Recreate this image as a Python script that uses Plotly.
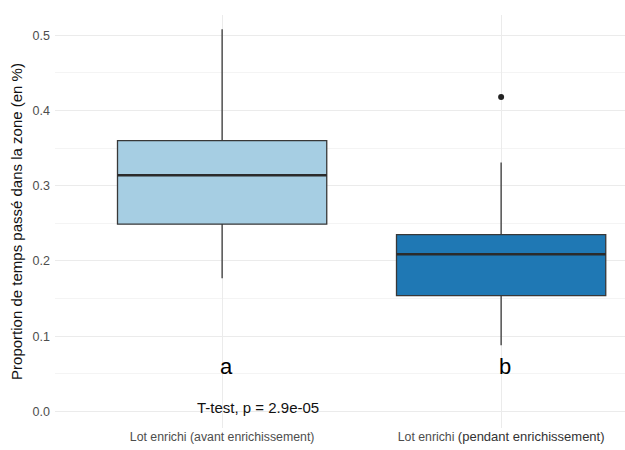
import plotly.graph_objects as go

# Groups compared and their box statistics (proportion of time spent in the zone)
categories = ["Lot enrichi (avant enrichissement)", "Lot enrichi (pendant enrichissement)"]
tick_labels = ["Lot enrichi (avant enrichissement)",
               "Lot enrichi <span style='font-size:13px;color:#333333'>(pendant enrichissement)</span>"]
q1 = [0.249, 0.154]
median = [0.314, 0.209]
q3 = [0.360, 0.235]
lower_whisker = [0.177, 0.088]
upper_whisker = [0.508, 0.331]
outlier_group = [categories[1]]
outlier_value = [0.418]
fill_colors = ["#A6CEE3", "#1F78B4"]
group_letters = ["a", "b"]
test_label = "T-test, p = 2.9e-05"

BOX_WIDTH = 0.75
EDGE = "#383838"

fig = go.Figure()
for i, cat in enumerate(categories):
    fig.add_trace(go.Box(
        x=[cat],
        q1=[q1[i]], median=[median[i]], q3=[q3[i]],
        lowerfence=[lower_whisker[i]], upperfence=[upper_whisker[i]],
        fillcolor=fill_colors[i],
        line=dict(color=EDGE, width=1.3),
        width=BOX_WIDTH,
        whiskerwidth=0,
        boxpoints=False,
        showlegend=False,
        hoverinfo="skip",
    ))
    # thicker median bar
    fig.add_shape(type="line", xref="x", yref="y",
                  x0=i - BOX_WIDTH / 2, x1=i + BOX_WIDTH / 2,
                  y0=median[i], y1=median[i],
                  line=dict(color="#2b2b2b", width=2.6))
    fig.add_annotation(x=i + 0.015, y=0.06, text=group_letters[i], showarrow=False,
                       font=dict(size=22, color="#000000"), xanchor="center", yanchor="middle")

fig.add_trace(go.Scatter(x=outlier_group, y=outlier_value, mode="markers",
                         marker=dict(color="#222222", size=6), showlegend=False,
                         hoverinfo="skip"))

fig.add_annotation(x=0.13, y=0.005, text=test_label, showarrow=False, xref="x", yref="y",
                   font=dict(size=15, color="#111111"), xanchor="center", yanchor="middle")

fig.update_layout(
    width=625, height=450,
    margin=dict(l=55, r=0, t=15, b=22),
    paper_bgcolor="white", plot_bgcolor="white",
    font=dict(family="Liberation Sans, Arial, sans-serif"),
)
fig.update_xaxes(
    type="category", range=[-0.599, 1.444],
    tickvals=categories, ticktext=tick_labels,
    showgrid=True, gridcolor="#EBEBEB", gridwidth=1,
    zeroline=False, showline=False, ticks="",
    tickfont=dict(size=12.3, color="#4D4D4D"),
)
fig.update_yaxes(
    range=[-0.022, 0.527],
    tickvals=[0.0, 0.1, 0.2, 0.3, 0.4, 0.5],
    ticktext=["0.0", "0.1", "0.2", "0.3", "0.4", "0.5"],
    showgrid=True, gridcolor="#EBEBEB", gridwidth=1,
    minor=dict(tickvals=[0.05, 0.15, 0.25, 0.35, 0.45], showgrid=True,
               gridcolor="#F4F4F4", gridwidth=1),
    zeroline=False, showline=False, ticks="",
    ticklabelstandoff=4,
    tickfont=dict(size=12.5, color="#4D4D4D"),
    title=dict(text="Proportion de temps passé dans la zone (en %)",
               font=dict(size=15, color="#111111"), standoff=6),
)

fig.write_html("out.html")
